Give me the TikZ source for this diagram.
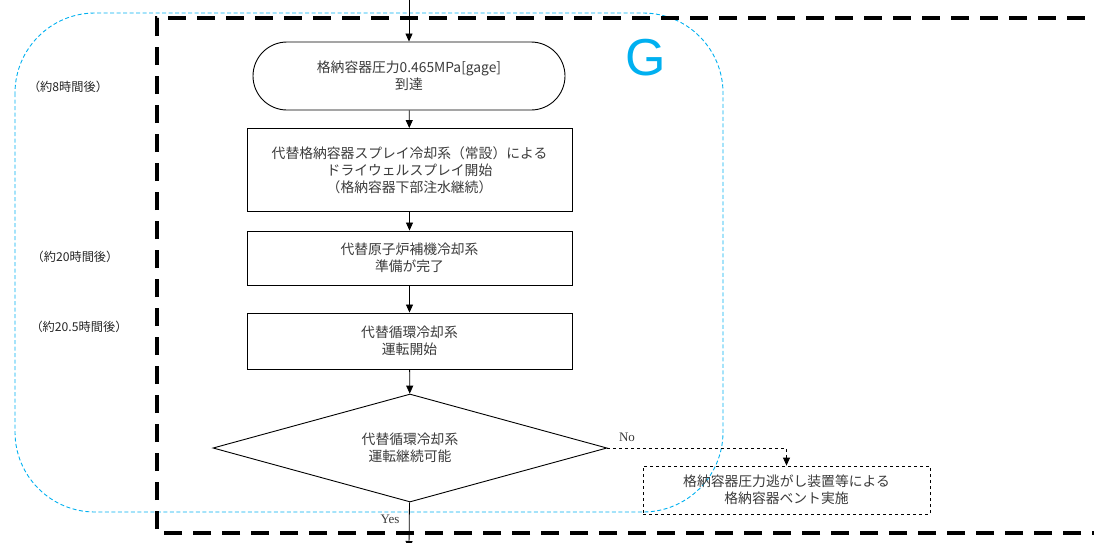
\documentclass[tikz,border=0pt]{standalone}
\usepackage{fontspec}
\setmainfont{Liberation Serif}
\newfontfamily\jp{Noto Sans CJK JP}
\newfontfamily\gfont{Liberation Sans}
\usetikzlibrary{shapes.geometric,arrows.meta}
\definecolor{gblue}{HTML}{00B0F0}
\definecolor{txt}{HTML}{3A3A3A}
\begin{document}
\begin{tikzpicture}[x=1pt,y=-1pt,
  box/.style={draw, line width=0.9pt, minimum width=325pt, align=center,
    font=\jp\fontsize{13.8}{17}\selectfont, text=txt, inner sep=0pt},
  arr/.style={-{Triangle[length=8pt,width=7pt]}, line width=0.8pt},
  tlabel/.style={font=\jp\fontsize{12.2}{14}\selectfont, text=black!85},
  lat/.style={font=\fontsize{13}{15}\selectfont, text=txt}]
\clip (0,0) rectangle (1094,542);
% blue region
\draw[gblue, dash pattern=on 4pt off 2.5pt, line width=0.9pt, rounded corners=80pt]
  (15,13) rectangle (723,512);
% black thick dashed frame
\draw[line width=4pt, dash pattern=on 18pt off 11pt]
  (1110,533) -- (157,533) -- (157,18) -- (1110,18);
% nodes
\node[box, rounded corners=34pt, minimum width=312pt, minimum height=68pt] (s) at (409,76)
  {格納容器圧力0.465MPa[gage]\\到達};
\node[box, minimum height=83pt] (b1) at (409.5,170)
  {代替格納容器スプレイ冷却系（常設）による\\ドライウェルスプレイ開始\\（格納容器下部注水継続）};
\node[box, minimum height=54pt] (b2) at (409.5,258)
  {代替原子炉補機冷却系\\準備が完了};
\node[box, minimum height=56pt] (b3) at (409.5,341)
  {代替循環冷却系\\運転開始};
\node[diamond, draw, line width=0.9pt, align=center, inner sep=0pt, aspect=3.65,
  minimum width=394pt, minimum height=108pt,
  font=\jp\fontsize{13.8}{17}\selectfont, text=txt] (d) at (410,448)
  {代替循環冷却系\\運転継続可能};
\node[box, dashed, line width=0.8pt, minimum width=287pt, minimum height=48pt] (v) at (786.5,490)
  {格納容器圧力逃がし装置等による\\格納容器ベント実施};
% labels
\node[lat] (no) at (627,437) {No};
\node[lat] (yes) at (390,519) {Yes};
\node[tlabel] (t1) at (68,87) {（約8時間後）};
\node[tlabel] (t2) at (75,257) {（約20時間後）};
\node[tlabel] (t3) at (79,327) {（約20.5時間後）};
\node[text=gblue, font=\gfont\fontsize{52}{52}\selectfont] (g) at (646,58) {G};
% connectors
\coordinate (top) at (409,-2);
\coordinate (bot) at (409,549);
\draw[arr] (top) -- (s);
\draw[arr] (s) -- (b1);
\draw[arr] (b1) -- (b2);
\draw[arr] (b2) -- (b3);
\draw[arr] (b3) -- (d);
\draw[arr] (d) -- (bot);
\draw[arr, dashed] (d.east) -| (v.north);
\end{tikzpicture}
\end{document}
